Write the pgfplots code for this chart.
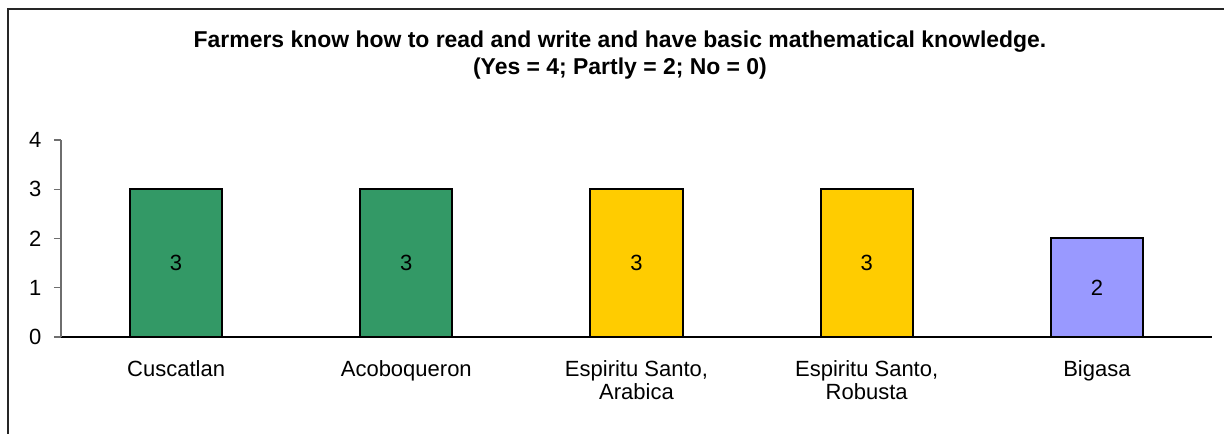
\documentclass[border=0pt]{standalone}
\usepackage{pgfplots}
\pgfplotsset{compat=1.18}
\usepackage{fontspec}
\setmainfont{Liberation Sans}

\definecolor{barGreen}{HTML}{339966}
\definecolor{barYellow}{HTML}{FFCC00}
\definecolor{barLavender}{HTML}{9999FF}
\definecolor{axisGray}{HTML}{6E6E6E}

\begin{document}
\begin{tikzpicture}[x=0.75pt,y=0.75pt]
\useasboundingbox (0,0) rectangle (1224,434);
% chart frame
\draw[line width=0.8pt, black!85] (8,-10) -- (8,425) -- (1240,425);
% title
\node[font=\bfseries\fontsize{17.2}{20}\selectfont, anchor=base] at (620,386)
  {Farmers know how to read and write and have basic mathematical knowledge.};
\node[font=\bfseries\fontsize{17.2}{20}\selectfont, anchor=base] at (620,359)
  {(Yes = 4; Partly = 2; No = 0)};

\begin{axis}[
  at={(45.75pt,72.75pt)}, anchor=south west,
  scale only axis,
  width=863.25pt, height=147.75pt,
  xmin=-0.5, xmax=4.5,
  ymin=0, ymax=4,
  axis x line*=bottom, axis y line*=left,
  x axis line style={black, line width=0.8pt, -},
  y axis line style={axisGray, line width=0.8pt, -},
  tick align=outside,
  ytick={0,1,2,3,4},
  major tick length=5.25pt,
  every tick/.style={axisGray, line width=0.8pt},
  xtick={0,1,2,3,4},
  xticklabels={Cuscatlan, Acoboqueron, {Espiritu Santo,\\Arabica}, {Espiritu Santo,\\Robusta}, Bigasa},
  xtick style={draw=none},
  extra x ticks={-0.5,0.5,1.5,2.5,3.5,4.5},
  extra x tick labels={},
  extra x tick style={tick style={axisGray, line width=0.8pt}, major tick length=6pt},
  xticklabel style={font=\fontsize{16.5}{17.25}\selectfont, align=center, anchor=north, yshift=-9pt},
  yticklabel style={font=\fontsize{16.5}{18}\selectfont, xshift=-6pt},
  /pgf/number format/assume math mode=true,
  ybar, bar width=0.4, bar shift=0pt,
  visualization depends on=rawy \as \rawy,
  nodes near coords,
  every node near coord/.append style={font=\fontsize{16.5}{18}\selectfont, anchor=center, yshift={-\rawy*18.47pt}},
  clip=false,
]
\addplot[fill=barGreen, draw=black, line width=1.5pt] coordinates {(0,3) (1,3)};
\addplot[fill=barYellow, draw=black, line width=1.5pt] coordinates {(2,3) (3,3)};
\addplot[fill=barLavender, draw=black, line width=1.5pt] coordinates {(4,2)};
\end{axis}
\end{tikzpicture}
\end{document}
